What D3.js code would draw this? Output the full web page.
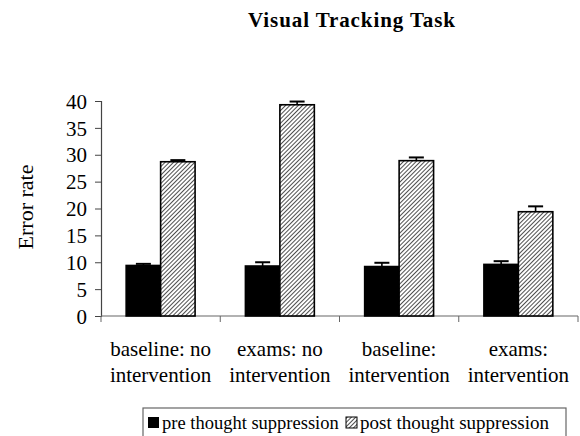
<!DOCTYPE html>
<html><head><meta charset="utf-8">
<script src="https://cdn.jsdelivr.net/npm/d3@7"></script>
<style>body{margin:0;background:#fff}svg{display:block}</style>
</head><body>
<svg id="c" width="580" height="436"></svg>
<script>
const categories = [["baseline: no","intervention"],["exams: no","intervention"],["baseline:","intervention"],["exams:","intervention"]];
const seriesNames = ["pre thought suppression","post thought suppression"];
const preValues = [9.4, 9.3, 9.2, 9.6];
const preErrors = [0.3, 0.7, 0.7, 0.6];
const postValues = [28.7, 39.3, 28.9, 19.4];
const postErrors = [0.3, 0.6, 0.6, 1.0];
const yTicks = [0,5,10,15,20,25,30,35,40];

(function(){
const FONT = "'Liberation Serif', Tinos, 'Times New Roman', Times, 'DejaVu Serif', serif";
const svg = d3.select("#c").attr("font-family", FONT);
const defs = svg.append("defs");
const pat = defs.append("pattern").attr("id","hatch").attr("patternUnits","userSpaceOnUse")
  .attr("width",3).attr("height",3).attr("patternTransform","rotate(45)");
pat.append("rect").attr("width",3).attr("height",3).attr("fill","#fff");
pat.append("line").attr("x1",0).attr("y1",0).attr("x2",0).attr("y2",3).attr("stroke","#222").attr("stroke-width",1.6);

const pL=101, pR=578, pT=101, pB=316;
const x = d3.scaleBand().domain(d3.range(categories.length)).range([pL,pR]).padding(0);
const xs = d3.scaleBand().domain([0,1]).range([0,x.bandwidth()]).paddingInner(0).paddingOuter(0.73);
const y = d3.scaleLinear().domain([0,40]).range([pB,pT]);

function txt(sel){ return sel.style("font-family", FONT).attr("fill","#000"); }

txt(svg.append("text")).attr("x",352).attr("y",27).attr("text-anchor","middle")
  .style("font-weight","bold").style("font-size","21px").style("letter-spacing","0.9px").text("Visual Tracking Task");

const ya = svg.append("g").attr("transform",`translate(${pL},0)`)
  .call(d3.axisLeft(y).tickValues(yTicks).tickSize(6).tickPadding(8));
ya.attr("font-family", FONT);
txt(ya.selectAll("text")).style("font-size","21px").attr("dy","0.34em");
ya.select(".domain").attr("stroke","#444").attr("stroke-width",1.2);
ya.selectAll(".tick line").attr("stroke","#444");

txt(svg.append("text")).attr("transform","translate(33,207) rotate(-90)").attr("text-anchor","middle")
  .style("font-size","22px").text("Error rate");

svg.append("line").attr("x1",pL).attr("x2",pR).attr("y1",pB).attr("y2",pB).attr("stroke","#666").attr("stroke-width",1.2);
const bounds = d3.range(categories.length+1).map(i => i<categories.length ? x(i) : x(i-1)+x.bandwidth());
svg.selectAll(".xt").data(bounds).join("line").attr("x1",d=>d).attr("x2",d=>d)
  .attr("y1",pB).attr("y2",pB+6).attr("stroke","#666");

const data = categories.map((c,i)=>[
  {s:0,i,v:preValues[i],e:preErrors[i]},
  {s:1,i,v:postValues[i],e:postErrors[i]}]).flat();

const eg = svg.append("g");
data.forEach(d=>{
  const cx = x(d.i)+xs(d.s)+xs.bandwidth()/2;
  eg.append("line").attr("x1",cx).attr("x2",cx).attr("y1",y(d.v)).attr("y2",y(d.v+d.e)).attr("stroke","#000").attr("stroke-width",1.6);
  eg.append("line").attr("x1",cx-7.5).attr("x2",cx+7.5).attr("y1",y(d.v+d.e)).attr("y2",y(d.v+d.e)).attr("stroke","#000").attr("stroke-width",2);
});

svg.append("g").selectAll("rect").data(data).join("rect")
  .attr("x",d=>x(d.i)+xs(d.s)).attr("width",xs.bandwidth())
  .attr("y",d=>y(d.v)).attr("height",d=>pB-y(d.v))
  .attr("fill",d=>d.s===0?"#000":"url(#hatch)").attr("stroke","#000").attr("stroke-width",1.6);

categories.forEach((c,i)=>{
  const cx = x(i)+x.bandwidth()/2;
  c.forEach((t,k)=>{
    txt(svg.append("text")).attr("x",cx).attr("y",356+k*26).attr("text-anchor","middle").style("font-size","21px").text(t);
  });
});

svg.append("rect").attr("x",143).attr("y",408).attr("width",423).attr("height",40).attr("fill","#fff").attr("stroke","#666").attr("stroke-width",1.2);
svg.append("rect").attr("x",148).attr("y",417).attr("width",11).attr("height",11).attr("fill","#000");
txt(svg.append("text")).attr("x",162).attr("y",429).style("font-size","18.5px").text(seriesNames[0]);
svg.append("rect").attr("x",346).attr("y",417).attr("width",11).attr("height",11).attr("fill","url(#hatch)").attr("stroke","#000").attr("stroke-width",1);
txt(svg.append("text")).attr("x",360).attr("y",429).style("font-size","19px").text(seriesNames[1]);
})();
</script>
</body></html>
